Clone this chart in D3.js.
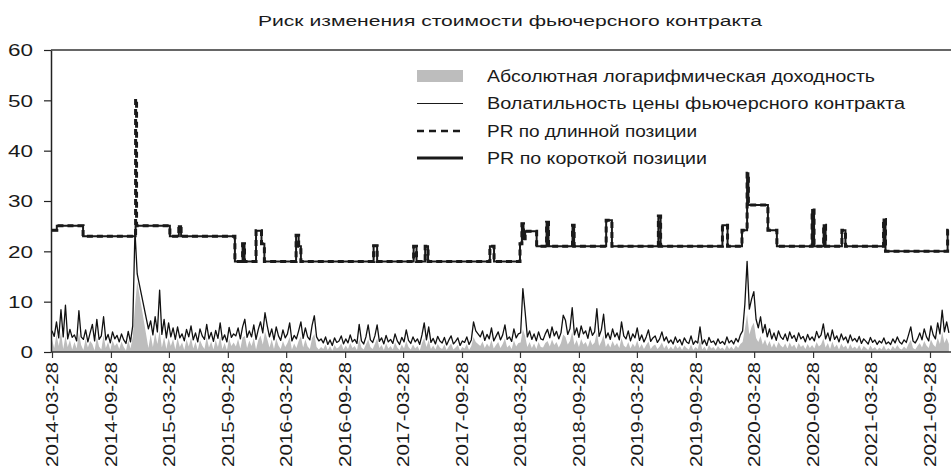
<!DOCTYPE html>
<html>
<head>
<meta charset="utf-8">
<script src="https://cdn.jsdelivr.net/npm/d3@7"></script>
<style>
  body { margin: 0; background: #fff; }
  svg { display: block; }
  text { font-family: "Liberation Sans", Arial, sans-serif; fill: #1a1a1a; }
</style>
</head>
<body>
<svg width="951" height="470"></svg>
<script>
const title = "Риск изменения стоимости фьючерсного контракта";
const legendLabels = [
  "Абсолютная логарифмическая доходность",
  "Волатильность цены фьючерсного контракта",
  "PR по длинной позиции",
  "PR по короткой позиции"
];
const xTickLabels = [
  "2014-03-28", "2014-09-28", "2015-03-28", "2015-09-28", "2016-03-28", "2016-09-28",
  "2017-03-28", "2017-09-28", "2018-03-28", "2018-09-28", "2019-03-28", "2019-09-28",
  "2020-03-28", "2020-09-28", "2021-03-28", "2021-09-28"
];
const yTicks = [0, 10, 20, 30, 40, 50, 60];

// weekly readings, first one on seriesStart
const seriesStart = "2014-03-28";
const stepDays = 7;

// volatility of futures price (thin line), null = no data
const volatility = [
  4.2, 3.1, 6.0, 2.8, 8.4, 3.0, 9.3, 2.6, 4.5, 2.9,
  3.4, 2.2, 8.2, 3.0, 2.5, 4.4, 2.0, 3.8, 5.5, 2.2,
  6.5, 2.5, 3.2, 7.0, 2.4, 3.5, 1.8, 4.0, 2.6, 3.3,
  2.0, 3.6, 2.4, 1.7, 4.1, 2.0, 5.2,
  24.0, 15.5, null, null, null, null, 4.6,
  6.2, 3.4, 7.0, 4.0, 12.3, 3.5, 6.5, 2.8, 5.8,
  3.0, 4.8, 2.5, 5.0, 2.8, 3.6, 2.2, 4.5, 3.0, 5.2,
  2.4, 3.8, 2.0, 4.6, 3.2, 2.5, 5.5, 2.6, 3.9, 2.1,
  4.3, 2.7, 5.8, 2.4, 3.4, 2.0, 4.9, 2.9, 3.6,
  3.2, 4.8, 2.6, 5.0, 6.5, 2.9, 4.2, 3.0, 5.4, 2.5,
  4.5, 6.0, 3.8, 7.8, 5.2, 3.0, 4.6, 2.4, 5.0, 3.2,
  2.3, 4.4, 2.8, 3.6, 5.8, 2.2, 3.3, 2.6, 4.2, 6.0,
  2.7, 4.8, 3.0, 2.4, 5.3, 7.2, 3.0, 2.2, 2.6,
  1.8, 3.0, 1.5, 2.4, 1.3, 2.8, 1.9, 2.2, 3.2, 1.6,
  2.6, 1.8, 3.4, 2.0, 2.5, 1.7, 5.5, 2.2, 1.6, 3.0,
  5.4, 2.4, 1.9, 3.2, 5.4, 2.1, 2.8, 1.6, 3.3, 2.0,
  2.5, 1.7, 3.6, 2.2, 1.5, 2.9, 2.0, 4.4, 2.3, 1.7,
  3.0, 2.0, 2.6, 1.5, 3.4, 5.8, 2.4, 5.0, 1.9, 2.7,
  1.6, 3.1, 2.2, 1.8, 2.9, 1.4, 2.4, 3.2, 1.6, 2.1,
  2.8, 1.3, 2.2, 1.9, 3.0, 1.5, 2.4, 6.0, 4.2, 3.6,
  3.0, 4.2, 2.3, 3.5, 2.6, 4.8, 2.2, 3.1, 4.0, 2.4,
  3.4, 5.4, 2.5, 3.0, 2.1, 4.6, 2.8, 3.6,
  3.8, 12.6, 8.0, 3.0, 4.2, 2.5, 3.6, 2.2, 4.0, 2.6,
  2.4, 3.6, 4.5, 2.8, 5.0, 3.2, 4.1, 2.6, 3.8, 7.3,
  6.3, 3.5, 4.6, 8.8, 3.4, 4.8, 2.9, 5.2, 3.6, 4.2,
  2.7, 5.0, 3.3, 4.0, 8.6, 3.1, 4.4, 7.5, 2.8, 3.8,
  2.5, 4.6, 3.0, 3.8, 2.4, 6.0, 3.2, 2.6, 4.2, 2.2,
  3.6, 2.8, 4.8, 2.3, 3.4, 2.0, 3.0, 4.4, 2.1, 2.8,
  3.2, 1.9, 2.6, 4.0, 2.2, 3.0, 1.8,
  2.4, 1.6, 3.0, 1.9, 2.5, 1.4, 2.8, 2.0, 1.7, 3.2,
  1.5, 2.2, 1.8, 5.0, 1.6, 2.4, 1.3, 2.9, 1.9, 2.2,
  1.4, 2.6, 1.7, 2.1, 1.5, 3.0, 1.8, 2.3, 1.6, 2.7, 2.0, 3.4, 4.2,
  9.5, 18.0, 8.5, 10.5, 12.0, 6.5, 4.8, 7.0, 3.8, 5.5,
  3.0, 4.6, 2.6, 3.8, 2.3, 4.2, 3.0, 2.5, 3.6, 2.2,
  4.0, 2.7, 3.3, 2.1, 3.8, 2.6, 3.1, 2.0, 3.5, 2.4,
  3.0, 2.2, 4.1, 2.8, 3.4, 5.6, 2.6, 3.8, 2.2, 4.4,
  2.5, 3.2, 2.0, 3.6, 2.4, 3.0, 1.8, 3.4, 2.2, 2.7,
  2.0, 3.1, 1.7, 2.6, 2.1, 1.6, 2.9, 1.9, 2.4, 1.5,
  2.2, 1.8, 2.8, 1.6, 2.0, 1.5, 2.6, 1.8, 3.0, 2.0,
  1.6, 2.4, 1.9, 3.4, 5.0, 2.2, 1.8, 2.6, 3.8, 2.4,
  4.6, 3.0, 2.2, 5.2, 3.4, 2.6, 5.8, 3.6, 8.3, 4.0,
  6.0, 3.8
];

// absolute log return (grey area), null = no data
const absReturn = [
  2.5, 0.8, 3.5, 1.2, 4.0, 0.6, 3.2, 1.0, 2.4, 0.5,
  2.0, 0.7, 3.8, 1.4, 0.4, 2.6, 0.9, 2.2, 1.6, 0.3,
  3.0, 1.1, 0.5, 3.4, 0.8, 2.0, 0.4, 2.3, 1.2, 1.8,
  0.6, 2.1, 1.0, 0.3, 2.4, 0.7, 3.0,
  9.0, 14.0, null, null, null, null, 0.8,
  3.5, 1.0, 3.8, 1.6, 4.2, 0.9, 3.0, 0.6, 2.8,
  1.2, 2.6, 0.5, 2.8, 1.0, 1.9, 0.4, 2.5, 1.1, 2.9,
  0.7, 2.0, 0.4, 2.4, 1.3, 0.6, 3.0, 0.9, 2.1, 0.5,
  2.4, 1.0, 3.1, 0.6, 1.8, 0.4, 2.7, 1.2, 1.9,
  1.1, 2.6, 0.7, 2.9, 3.2, 0.8, 2.3, 1.2, 2.8, 0.5,
  2.4, 3.3, 1.5, 4.0, 2.6, 0.9, 2.5, 0.6, 2.7, 1.3,
  0.6, 2.2, 1.0, 1.8, 3.0, 0.5, 1.7, 0.8, 2.2, 3.1,
  0.9, 2.5, 1.1, 0.6, 2.8, 3.6, 1.0, 0.5, 1.0,
  0.6, 1.5, 0.4, 1.2, 0.3, 1.4, 0.7, 1.0, 1.7, 0.5,
  1.3, 0.6, 1.8, 0.8, 1.2, 0.4, 2.6, 0.9, 0.5, 1.5,
  2.5, 1.0, 0.6, 1.6, 2.7, 0.8, 1.4, 0.4, 1.7, 0.7,
  1.2, 0.5, 1.9, 0.9, 0.4, 1.5, 0.7, 2.2, 1.0, 0.5,
  1.5, 0.7, 1.2, 0.3, 1.8, 2.8, 1.0, 2.4, 0.6, 1.3,
  0.5, 1.6, 0.9, 0.6, 1.5, 0.4, 1.1, 1.7, 0.5, 0.9,
  1.4, 0.3, 1.0, 0.7, 1.6, 0.4, 1.2, 3.0, 2.0, 1.6,
  1.2, 2.1, 0.8, 1.7, 1.0, 2.4, 0.7, 1.4, 2.0, 0.8,
  1.6, 2.7, 0.9, 1.4, 0.6, 2.3, 1.1, 1.8,
  1.9, 4.5, 3.2, 1.0, 2.0, 0.8, 1.7, 0.6, 2.0, 1.0,
  0.9, 1.8, 2.2, 1.1, 2.5, 1.4, 2.0, 0.9, 1.8, 3.5,
  3.0, 1.5, 2.2, 4.0, 1.4, 2.4, 1.0, 2.6, 1.5, 2.0,
  1.0, 2.5, 1.4, 1.9, 3.9, 1.2, 2.1, 3.4, 1.0, 1.8,
  0.9, 2.2, 1.2, 1.8, 0.8, 2.8, 1.3, 0.9, 2.0, 0.7,
  1.7, 1.0, 2.3, 0.8, 1.6, 0.6, 1.4, 2.1, 0.6, 1.2,
  1.5, 0.6, 1.1, 1.9, 0.7, 1.4, 0.5,
  1.1, 0.5, 1.4, 0.7, 1.2, 0.4, 1.3, 0.8, 0.5, 1.5,
  0.4, 1.0, 0.6, 2.4, 0.5, 1.1, 0.3, 1.4, 0.7, 1.0,
  0.4, 1.2, 0.6, 0.9, 0.4, 1.4, 0.6, 1.1, 0.5, 1.3, 0.8, 1.6, 2.0,
  4.5, 7.5, 3.5, 5.0, 5.8, 2.8, 2.0, 3.2, 1.5, 2.5,
  1.2, 2.2, 0.9, 1.8, 0.8, 2.0, 1.3, 0.9, 1.7, 0.7,
  1.9, 1.0, 1.5, 0.6, 1.8, 1.0, 1.4, 0.6, 1.6, 0.8,
  1.4, 0.7, 2.0, 1.1, 1.5, 2.7, 0.9, 1.8, 0.6, 2.1,
  0.9, 1.5, 0.5, 1.7, 0.9, 1.3, 0.5, 1.6, 0.7, 1.1,
  0.6, 1.4, 0.4, 1.2, 0.8, 0.4, 1.3, 0.6, 1.0, 0.4,
  0.9, 0.5, 1.3, 0.4, 0.8, 0.4, 1.2, 0.6, 1.4, 0.7,
  0.5, 1.1, 0.6, 1.6, 2.4, 0.8, 0.5, 1.2, 1.8, 0.9,
  2.2, 1.3, 0.8, 2.5, 1.5, 1.0, 2.8, 1.6, 4.0, 1.8,
  2.8, 1.6
];

// price risk levels: each value holds from its date until the next one
const prDates = [
  "2014-03-28", "2014-04-12", "2014-07-03", "2014-12-14", "2014-12-17", "2015-03-31",
  "2015-04-28", "2015-05-05", "2015-10-20", "2015-11-13", "2015-11-19", "2015-12-25",
  "2016-01-11", "2016-01-20", "2016-04-28", "2016-05-06", "2016-05-13", "2016-12-26",
  "2017-01-06", "2017-04-30", "2017-05-09", "2017-06-05", "2017-06-14", "2017-12-24",
  "2018-01-06", "2018-03-28", "2018-04-03", "2018-04-08", "2018-04-13", "2018-05-19",
  "2018-06-19", "2018-06-25", "2018-09-08", "2018-09-13", "2018-12-22", "2019-01-09",
  "2019-06-03", "2019-06-10", "2019-12-20", "2020-01-05", "2020-02-19", "2020-03-06",
  "2020-03-10", "2020-05-10", "2020-06-07", "2020-09-25", "2020-10-01", "2020-10-31",
  "2020-11-06", "2020-12-27", "2021-01-07", "2021-05-06", "2021-05-12", "2021-11-22",
  "2021-11-26"
];
const prLong = [
  24.2, 25.1, 23.0, 50.3, 25.1, 23.0,
  25.0, 23.0, 18.0, 21.5, 18.0, 24.1,
  21.5, 18.0, 23.2, 21.0, 18.0, 21.1,
  18.0, 21.0, 18.0, 21.0, 18.0, 21.0,
  18.0, 21.5, 25.5, 22.5, 24.0, 21.0,
  25.8, 21.0, 25.2, 21.0, 26.2, 21.0,
  27.0, 21.0, 25.2, 21.0, 24.2, 35.5,
  29.2, 24.2, 21.0, 28.2, 21.0, 25.2,
  21.0, 24.2, 21.0, 26.3, 20.0, 24.2,
  24.2
];
const prShort = [
  24.2, 25.1, 23.0, 25.1, 25.1, 23.0,
  25.0, 23.0, 18.0, 21.5, 18.0, 24.1,
  21.5, 18.0, 23.2, 21.0, 18.0, 21.1,
  18.0, 21.0, 18.0, 21.0, 18.0, 21.0,
  18.0, 21.5, 25.5, 22.5, 24.0, 21.0,
  25.8, 21.0, 25.2, 21.0, 26.2, 21.0,
  27.0, 21.0, 25.2, 21.0, 24.2, 35.5,
  29.2, 24.2, 21.0, 28.2, 21.0, 25.2,
  21.0, 24.2, 21.0, 26.3, 20.0, 24.2,
  24.2
];

const parse = d3.utcParse("%Y-%m-%d");
const svg = d3.select("svg");

const x = d3.scaleUtc()
  .domain([parse("2014-03-28"), parse("2021-09-28")])
  .range([52, 930]);
const y = d3.scaleLinear().domain([0, 60]).range([352, 50]);

const start = parse(seriesStart);
const weekly = (arr) => arr
  .map((v, i) => ({ date: d3.utcDay.offset(start, i * stepDays), value: v }))
  .filter(d => d.value !== null);   // gaps are bridged, like the original

const volData = weekly(volatility);
const retData = weekly(absReturn);
const longData = prDates.map((d, i) => ({ date: parse(d), value: prLong[i] }));
const shortData = prDates.map((d, i) => ({ date: parse(d), value: prShort[i] }));

// grey area
svg.append("path")
  .datum(retData)
  .attr("fill", "#bdbdbd")
  .attr("d", d3.area().x(d => x(d.date)).y0(y(0)).y1(d => y(d.value)));

// thin volatility line
svg.append("path")
  .datum(volData)
  .attr("fill", "none")
  .attr("stroke", "#111")
  .attr("stroke-width", 1.3)
  .attr("stroke-linejoin", "round")
  .attr("d", d3.line().x(d => x(d.date)).y(d => y(d.value)));

const stepLine = d3.line().curve(d3.curveStepAfter).x(d => x(d.date)).y(d => y(d.value));

svg.append("path")
  .datum(shortData)
  .attr("fill", "none")
  .attr("stroke", "#1a1a1a")
  .attr("stroke-width", 2)
  .attr("d", stepLine);

svg.append("path")
  .datum(longData)
  .attr("fill", "none")
  .attr("stroke", "#1a1a1a")
  .attr("stroke-width", 3)
  .attr("stroke-dasharray", "6,4")
  .attr("d", stepLine);

// axes
const yAxis = svg.append("g")
  .attr("transform", "translate(51,0)")
  .call(d3.axisLeft(y).tickValues(yTicks).tickSize(7).tickSizeOuter(0).tickPadding(11));
yAxis.select(".domain").attr("stroke", "#222").attr("stroke-width", 1.5);
yAxis.selectAll(".tick line").attr("stroke", "#222").attr("stroke-width", 1.2);
yAxis.selectAll(".tick text")
  .attr("font-size", 16)
  .attr("font-family", null)
  .attr("dy", "0.36em")
  .attr("textLength", d => String(d).length * 12.5)
  .attr("lengthAdjust", "spacingAndGlyphs");

const xAxis = svg.append("g")
  .attr("transform", "translate(0,352)")
  .call(d3.axisBottom(x)
    .tickValues(xTickLabels.map(parse))
    .tickFormat((d, i) => xTickLabels[i])
    .tickSize(6)
    .tickSizeOuter(0));
xAxis.select(".domain").attr("d", "M51,0H951").attr("stroke", "#333").attr("stroke-width", 1.5);
xAxis.selectAll(".tick line").attr("stroke", "#333").attr("stroke-width", 1.2);
xAxis.selectAll(".tick text")
  .attr("font-size", 16)
  .attr("font-family", null)
  .attr("transform", "rotate(-90)")
  .attr("text-anchor", "end")
  .attr("x", -10)
  .attr("y", 0)
  .attr("dy", "0.36em")
  .attr("textLength", 105)
  .attr("lengthAdjust", "spacingAndGlyphs");

// top border of the plot area
svg.append("line")
  .attr("x1", 51).attr("x2", 951)
  .attr("y1", y(60)).attr("y2", y(60))
  .attr("stroke", "#333").attr("stroke-width", 1.5);

// title
svg.append("text")
  .attr("x", 258).attr("y", 26)
  .attr("font-size", 15.5)
  .attr("textLength", 504)
  .attr("lengthAdjust", "spacingAndGlyphs")
  .text(title);

// legend
const legendRows = [76, 103.5, 131, 158];
const legendWidths = [388, 418, 210, 220];
const lg = svg.append("g");
lg.append("rect")
  .attr("x", 417).attr("y", legendRows[0] - 6)
  .attr("width", 46).attr("height", 12)
  .attr("fill", "#bdbdbd");
lg.append("line")
  .attr("x1", 417).attr("x2", 463)
  .attr("y1", legendRows[1]).attr("y2", legendRows[1])
  .attr("stroke", "#1a1a1a").attr("stroke-width", 1);
lg.append("line")
  .attr("x1", 417).attr("x2", 463)
  .attr("y1", legendRows[2]).attr("y2", legendRows[2])
  .attr("stroke", "#1a1a1a").attr("stroke-width", 2.5)
  .attr("stroke-dasharray", "7,5");
lg.append("line")
  .attr("x1", 417).attr("x2", 463)
  .attr("y1", legendRows[3]).attr("y2", legendRows[3])
  .attr("stroke", "#1a1a1a").attr("stroke-width", 3);
legendLabels.forEach((label, i) => {
  lg.append("text")
    .attr("x", 487).attr("y", legendRows[i])
    .attr("dy", "0.36em")
    .attr("font-size", 16)
    .attr("textLength", legendWidths[i])
    .attr("lengthAdjust", "spacingAndGlyphs")
    .text(label);
});
</script>
</body>
</html>
